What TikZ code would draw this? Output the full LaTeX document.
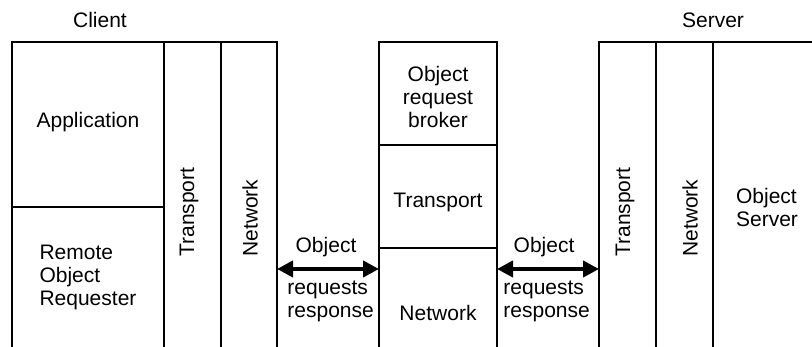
\documentclass[tikz,border=0pt]{standalone}
\usepackage{fontspec}
\setmainfont{Liberation Sans}
\usetikzlibrary{arrows.meta}
\tikzstyle{every node}=[font=\fontsize{10.5}{11.5}\selectfont, inner sep=0pt]
\tikzstyle{layer}=[line width=1pt]
\tikzstyle{msg}=[{Triangle[length=8pt,width=8pt]}-{Triangle[length=8pt,width=8pt]}, line width=2pt]

\begin{document}
\begin{tikzpicture}[x=0.5pt,y=0.5pt]
            \useasboundingbox (0,0) rectangle (812,347);

            % 客户端
            \draw[layer] (12,0) -- (12,305) -- (277,305) -- (277,0);
            \draw[layer] (164,0) -- (164,305);
            \draw[layer] (221,0) -- (221,305);
            \draw[layer] (12,140) -- (164,140);
            \node (client) at (100,327) {Client};
            \node (app) at (88,225) {Application};
            \node[align=left] (ror) at (88,70) {Remote\\Object\\Requester};
            \node[rotate=90, anchor=west] (ctrans) at (189,90) {Transport};
            \node[rotate=90, anchor=west] (cnet) at (250,90) {Network};

            % 对象请求代理
            \draw[layer] (379,0) -- (379,305) -- (497,305) -- (497,0);
            \draw[layer] (379,202) -- (497,202);
            \draw[layer] (379,99) -- (497,99);
            \node[align=center] (orb) at (438,250) {Object\\request\\broker};
            \node (mtrans) at (438,145) {Transport};
            \node (mnet) at (438,34) {Network};

            % 服务器
            \draw[layer] (599,0) -- (599,305) -- (812,305);
            \draw[layer] (656,0) -- (656,305);
            \draw[layer] (713,0) -- (713,305);
            \node (server) at (713,327) {Server};
            \node[rotate=90, anchor=west] (strans) at (625,90) {Transport};
            \node[rotate=90, anchor=west] (snet) at (690,90) {Network};
            \node[align=left] (osrv) at (767,140) {Object\\Server};

            % 请求与响应
            \coordinate (cout) at (277,78);
            \coordinate (min) at (379,78);
            \coordinate (mout) at (497,78);
            \coordinate (sin) at (599,78);
            \draw[msg] (cout) -- (min);
            \draw[msg] (mout) -- (sin);
            \node (obj1) at (326,100) {Object};
            \node[align=left, anchor=west] (rr1) at (287,45.5) {requests\\response};
            \node (obj2) at (544,100) {Object};
            \node[align=left, anchor=west] (rr2) at (503,45.5) {requests\\response};
        \end{tikzpicture}
\end{document}
